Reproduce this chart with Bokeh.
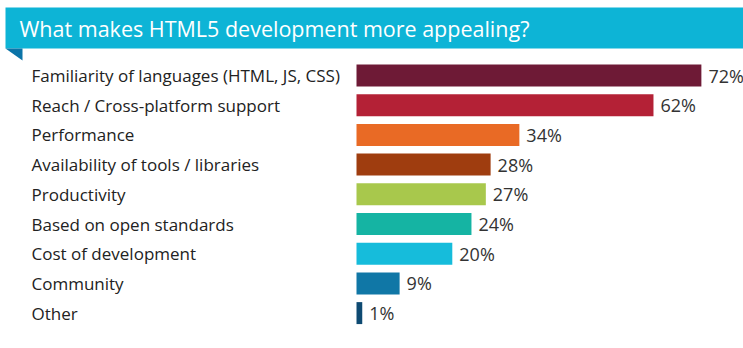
from bokeh.plotting import figure
from bokeh.models import Range1d, ColumnDataSource
from bokeh.core.properties import value
from bokeh.embed import file_html
from bokeh.resources import INLINE

title = "What makes HTML5 development more appealing?"
categories = [
    "Familiarity of languages (HTML, JS, CSS)",
    "Reach / Cross-platform support",
    "Performance",
    "Availability of tools / libraries",
    "Productivity",
    "Based on open standards",
    "Cost of development",
    "Community",
    "Other",
]
values = [72, 62, 34, 28, 27, 24, 20, 9, 1]
colors = ["#6E1A36", "#B42136", "#E96A25", "#9F3D0F", "#A8C84C",
          "#15B4A3", "#16BCDB", "#1077A6", "#0E4A72"]

W, H = 743, 348
BAR_LEFT_PX = 356
PX_PER_PCT = 4.79
ROW0_PX = 75.0
ROW_PITCH = 29.7

def xd(px):
    return (px - BAR_LEFT_PX) / PX_PER_PCT

def yd(py):
    return (py - ROW0_PX) / ROW_PITCH

p = figure(width=W, height=H, output_backend="svg", toolbar_location=None,
           x_range=Range1d(xd(0), xd(W)), y_range=Range1d(yd(H), yd(0)),
           min_border=0, outline_line_color=None)
p.axis.visible = False
p.grid.visible = False
p.background_fill_color = "white"
p.border_fill_color = "white"

FONT = value("Open Sans")

# banner
p.quad(left=xd(5), right=xd(W + 5), top=yd(7), bottom=yd(48),
       fill_color="#0DB4D6", line_color=None)
p.patch([xd(5), xd(22), xd(22)], [yd(48), yd(48), yd(60)],
        fill_color="#0B74A8", line_color=None)
p.text(x=[xd(19)], y=[yd(27.5)], text=[title], text_font=FONT,
       text_font_size="21.5px", text_color="white", text_baseline="middle")

rows = list(range(len(categories)))
src = ColumnDataSource(dict(row=rows, val=values, col=colors, cat=categories,
                            lab=[f"{v}%" for v in values],
                            vis=[max(v, 1.2) for v in values]))

p.hbar(y="row", left=0, right="vis", height=0.74, fill_color="col",
       line_color=None, source=src)
p.text(x=xd(31), y="row", text="cat", source=src, text_font=FONT,
       text_font_size="17px", text_color="#222222", text_baseline="middle")
p.text(x="vis", y="row", text="lab", source=src, x_offset=7, text_font=FONT,
       text_font_size="18px", text_color="#333333", text_baseline="middle")

open("out.html", "w").write(file_html(p, INLINE))
